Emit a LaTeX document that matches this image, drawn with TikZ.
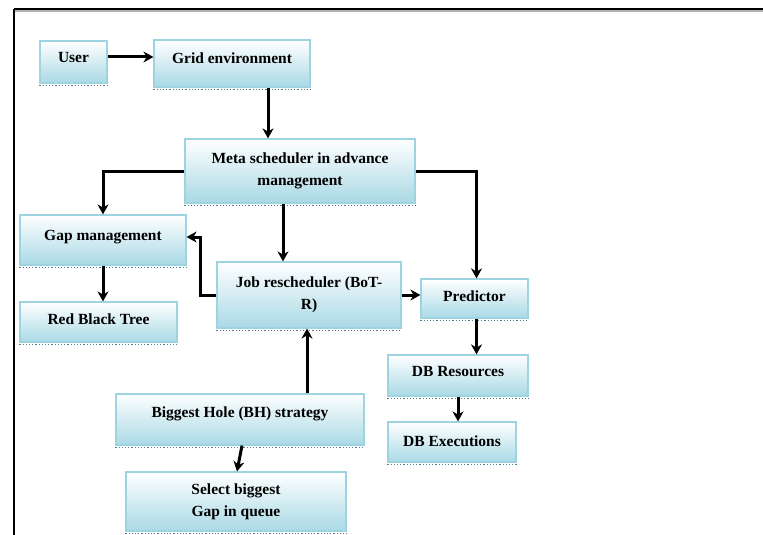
\documentclass[tikz,border=0pt]{standalone}
\usepackage{fontspec}
\setmainfont{Liberation Serif}
\usetikzlibrary{arrows.meta}
\definecolor{boxedge}{HTML}{9ED3E1}
\definecolor{boxbot}{HTML}{A9D9E5}
\definecolor{shadowc}{HTML}{4F7F8C}
\tikzset{
  box/.style={draw=boxedge, line width=1.2pt, top color=white, bottom color=boxbot,
    inner sep=0pt, align=center, font=\bfseries\fontsize{15.5}{22}\selectfont,
    append after command={([yshift=-1.8pt]\tikzlastnode.south west) edge[draw=shadowc, dotted, line width=1.2pt] ([yshift=-1.8pt]\tikzlastnode.south east)}},
  raise/.style={text depth=#1},
  arr/.style={draw=black, line width=3pt, -{Stealth[length=10pt,width=11pt]}},
}
\begin{document}
\begin{tikzpicture}[x=1pt,y=-1pt]
\useasboundingbox (0,0) rectangle (763,535);
\draw[gray!60, line width=1.5pt] (15,11) -- (763,11);
\draw[black, line width=2.2pt] (14,9) -- (763,9);
\draw[black, line width=2pt] (14,9) -- (14,535);

\node[box, minimum width=67pt, minimum height=42pt, raise=9pt] (user) at (73.5,62) {User};
\node[box, minimum width=156pt, minimum height=47pt, raise=11pt] (grid) at (232,63.5) {Grid environment};
\node[box, minimum width=230pt, minimum height=64pt] (meta) at (300,171) {Meta scheduler in advance\\management};
\node[box, minimum width=166pt, minimum height=50pt, raise=9pt] (gap) at (103,240) {Gap management};
\node[box, minimum width=157pt, minimum height=40pt, raise=6pt] (rbt) at (98.5,322) {Red Black Tree};
\node[box, minimum width=184pt, minimum height=66pt] (job) at (309,295) {Job rescheduler (BoT-\\R)};
\node[box, minimum width=107pt, minimum height=39pt, raise=4pt] (pred) at (474.5,298.5) {Predictor};
\node[box, minimum width=140pt, minimum height=41pt, raise=8pt] (dbr) at (458,375.5) {DB Resources};
\node[box, minimum width=128pt, minimum height=40pt, raise=2pt] (dbe) at (452,442) {DB Executions};
\node[box, minimum width=248pt, minimum height=51pt, raise=14pt] (bh) at (240,419.5) {Biggest Hole (BH) strategy};
\node[box, minimum width=220pt, minimum height=59pt] (sel) at (236,501.5) {Select biggest\\Gap in queue};

\draw[arr] ([yshift=5pt]user.east) -- ([yshift=6.5pt]grid.west);
\draw[arr] ([xshift=36pt]grid.south) -- ([xshift=36pt]grid.south |- meta.north);
\draw[arr] (meta.west) -| (gap.north);
\draw[arr] (meta.east) -| ([xshift=2pt]pred.north);
\draw[arr] ([xshift=-17pt]meta.south) -- ([xshift=-17pt]meta.south |- job.north);
\draw[arr] (job.west) -- ++(-16,0) |- ([yshift=3pt]gap.east);
\draw[arr] (job.east) -- (job.east -| pred.west);
\draw[arr] (gap.south) -- (gap.south |- rbt.north);
\draw[arr] ([xshift=67pt]bh.north) -- ([xshift=67pt]bh.north |- job.south);
\draw[arr] ([xshift=2pt]bh.south) -- ([xshift=1pt]sel.north);
\draw[arr] ([xshift=2pt]pred.south) -- ([xshift=2pt]pred.south |- dbr.north);
\draw[arr] (dbr.south) -- (dbr.south |- dbe.north);
\end{tikzpicture}
\end{document}
